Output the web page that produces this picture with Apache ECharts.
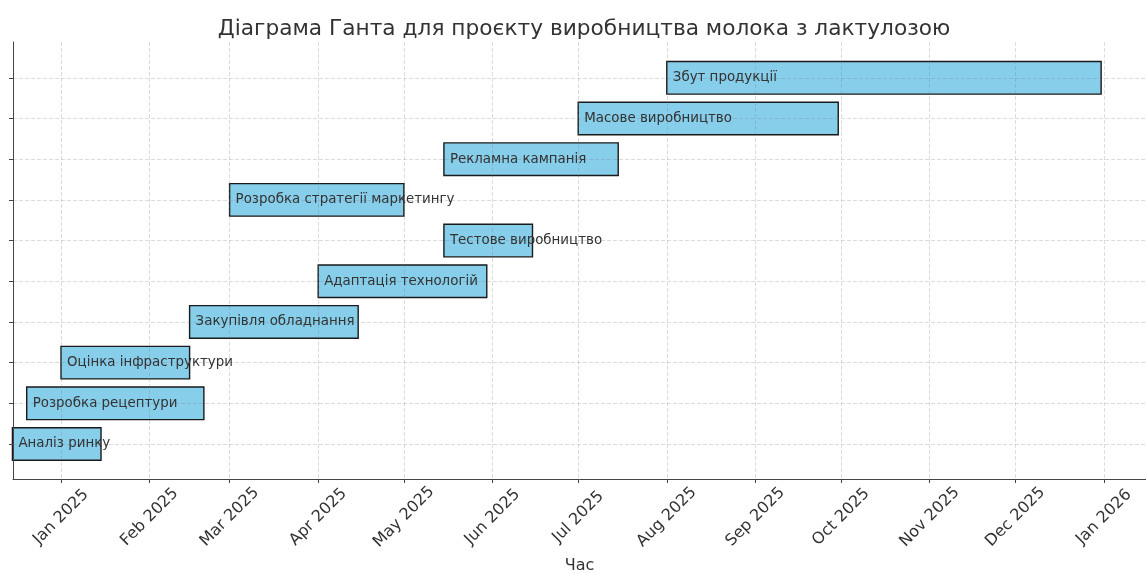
<!DOCTYPE html>
<html>
<head>
<meta charset="utf-8">
<script src="https://cdn.jsdelivr.net/npm/echarts@6/dist/echarts.min.js"></script>
<style>
  html, body { margin: 0; padding: 0; background: #fff; }
  #chart { width: 1146px; height: 574px; }
</style>
</head>
<body>
<div id="chart"></div>
<script>
// tasks, bottom to top
const taskNames = [
  'Аналіз ринку',
  'Розробка рецептури',
  'Оцінка інфраструктури',
  'Закупівля обладнання',
  'Адаптація технологій',
  'Тестове виробництво',
  'Розробка стратегії маркетингу',
  'Рекламна кампанія',
  'Масове виробництво',
  'Збут продукції'
];
const taskStarts = [
  '2024-12-15', '2024-12-20', '2025-01-01', '2025-02-15', '2025-04-01',
  '2025-05-15', '2025-03-01', '2025-05-15', '2025-07-01', '2025-08-01'
];
const taskEnds = [
  '2025-01-15', '2025-02-20', '2025-02-15', '2025-04-15', '2025-05-30',
  '2025-06-15', '2025-05-01', '2025-07-15', '2025-09-30', '2025-12-31'
];
const monthTicks = [
  '2025-01-01', '2025-02-01', '2025-03-01', '2025-04-01', '2025-05-01', '2025-06-01', '2025-07-01',
  '2025-08-01', '2025-09-01', '2025-10-01', '2025-11-01', '2025-12-01', '2026-01-01'
];
const monthNames = ['Jan', 'Feb', 'Mar', 'Apr', 'May', 'Jun', 'Jul', 'Aug', 'Sep', 'Oct', 'Nov', 'Dec'];

// x axis is in days from 2025-01-01 (time axis + custom ticks does not work)
const DAY = 86400000;
const origin = Date.parse('2025-01-01T00:00:00Z');
const toDay = s => (Date.parse(s + 'T00:00:00Z') - origin) / DAY;
const dayLabel = v => {
  const d = new Date(origin + Math.round(v) * DAY);
  return monthNames[d.getUTCMonth()] + ' ' + d.getUTCFullYear();
};

const data = taskNames.map((n, i) => [i, toDay(taskStarts[i]), toDay(taskEnds[i])]);
const tickDays = monthTicks.map(toDay);
const taskTicks = taskNames.map((n, i) => i);
const font = 'DejaVu Sans';

const chart = echarts.init(document.getElementById('chart'), null, { renderer: 'canvas' });

function barItem(params, api) {
  const y = api.value(0);
  const p0 = api.coord([api.value(1), y]);
  const p1 = api.coord([api.value(2), y]);
  const h = api.size([0, 0.8])[1];
  return {
    type: 'rect',
    shape: { x: p0[0], y: p0[1] - h / 2, width: p1[0] - p0[0], height: h },
    style: { fill: '#87CEEB', stroke: '#1a1a1a', lineWidth: 1.4 }
  };
}

function labelItem(params, api) {
  const p0 = api.coord([api.value(1), api.value(0)]);
  return {
    type: 'text',
    x: p0[0] + 6,
    y: p0[1],
    style: {
      text: taskNames[params.dataIndex],
      fill: '#333',
      font: '13.4px "DejaVu Sans"',
      textAlign: 'left',
      textVerticalAlign: 'middle'
    }
  };
}

const gridLine = { show: true, lineStyle: { color: 'rgba(120,120,120,0.33)', width: 0.8, type: [4, 2] } };

chart.setOption({
  animation: false,
  textStyle: { fontFamily: font },
  title: {
    text: 'Діаграма Ганта для проєкту виробництва молока з лактулозою',
    left: 579,
    textAlign: 'center',
    top: 13,
    textStyle: { fontFamily: font, fontSize: 21.7, fontWeight: 'normal', color: '#333' }
  },
  grid: { left: 13, right: 0, top: 42, bottom: 95, containLabel: false, outerBoundsMode: 'none' },
  xAxis: {
    type: 'value',
    min: -16.8,
    max: 379.7,
    z: 1.5,
    name: 'Час',
    nameLocation: 'middle',
    nameGap: 79,
    nameTextStyle: { fontFamily: font, fontSize: 16, color: '#333' },
    axisLine: { show: true, onZero: false, lineStyle: { color: '#444', width: 1 } },
    axisTick: { show: true, length: 4, lineStyle: { color: '#444' }, customValues: tickDays },
    axisLabel: {
      customValues: tickDays,
      rotate: 45,
      align: 'center',
      verticalAlign: 'middle',
      margin: 38,
      fontFamily: font,
      fontSize: 16,
      color: '#333',
      formatter: dayLabel
    },
    splitLine: gridLine
  },
  yAxis: {
    type: 'value',
    min: -0.86,
    max: 9.88,
    z: 1.5,
    axisLine: { show: true, onZero: false, lineStyle: { color: '#444', width: 1 } },
    axisTick: { show: true, length: 4, lineStyle: { color: '#444' }, customValues: taskTicks },
    axisLabel: { show: false, customValues: taskTicks },
    splitLine: gridLine
  },
  series: [
    {
      type: 'custom',
      z: 1,
      renderItem: barItem,
      encode: { x: [1, 2], y: 0 },
      data: data
    },
    {
      type: 'custom',
      z: 3,
      renderItem: labelItem,
      encode: { x: [1, 2], y: 0 },
      data: data
    }
  ]
});
</script>
</body>
</html>
